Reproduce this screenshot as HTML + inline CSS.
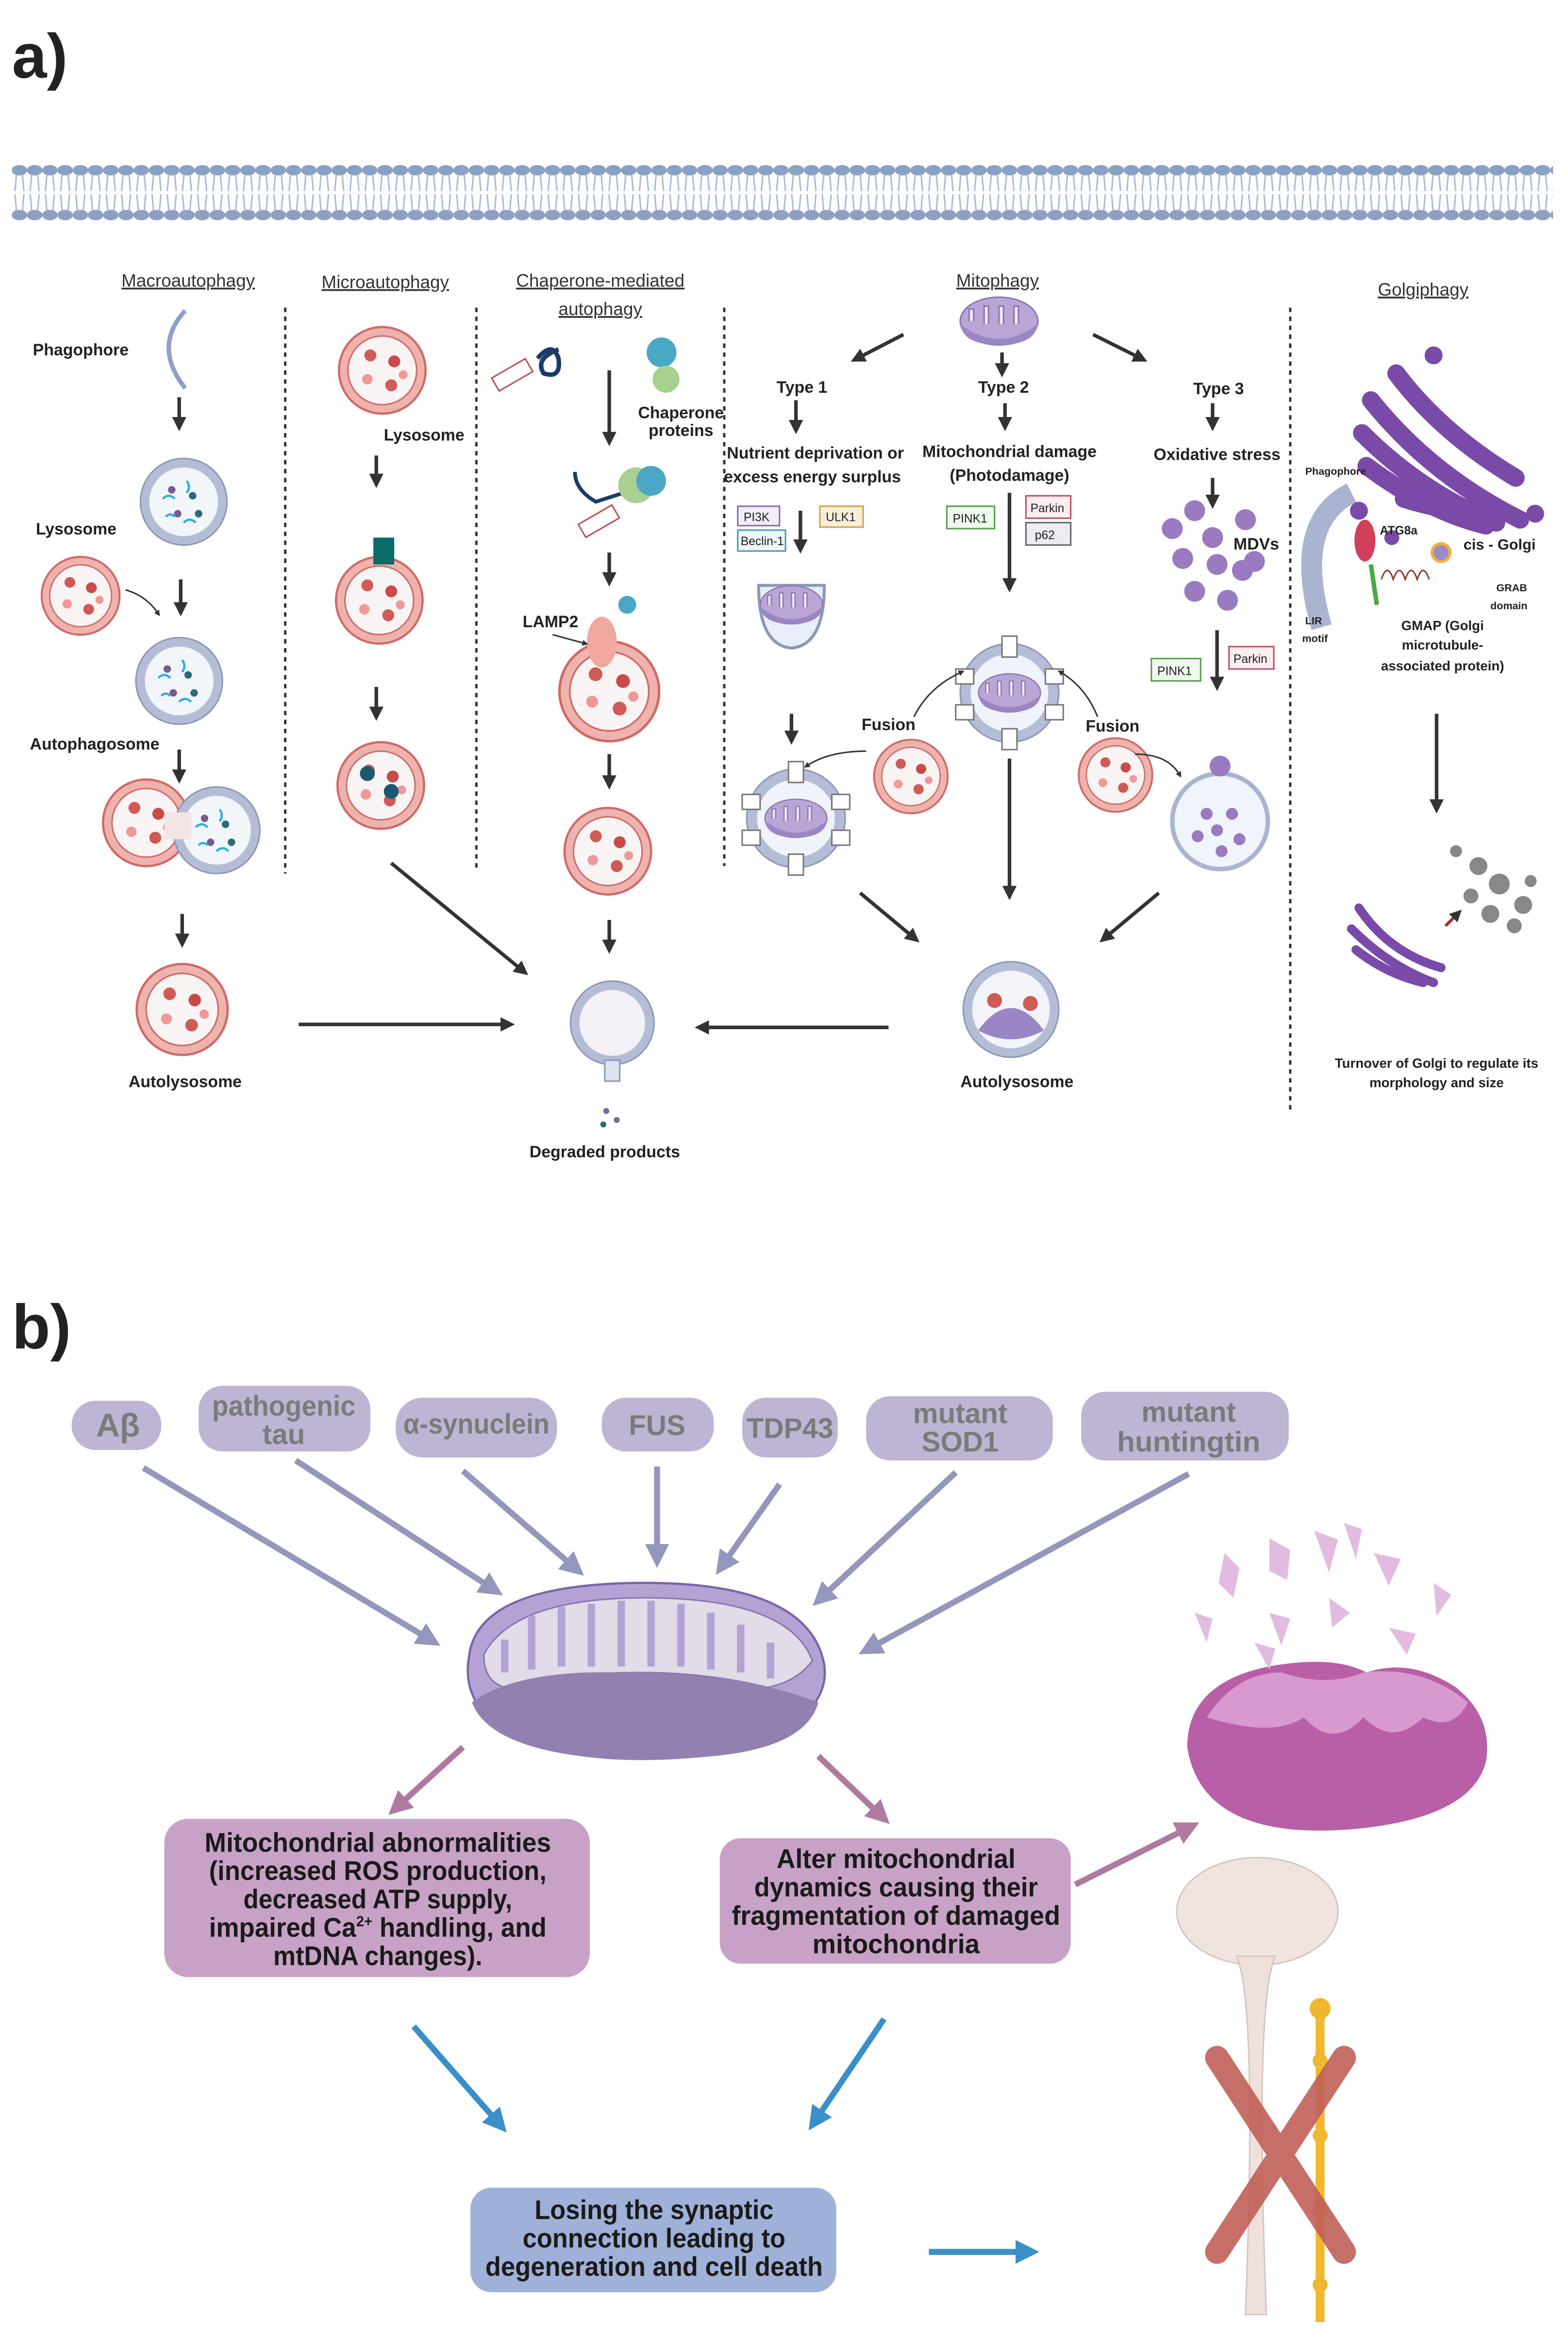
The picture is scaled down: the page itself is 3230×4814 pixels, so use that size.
<!DOCTYPE html>
<html><head><meta charset="utf-8"><style>
html,body{margin:0;padding:0;background:#fff}
svg{display:block}
text{font-family:"Liberation Sans",sans-serif;font-weight:bold;fill:#222}
.h{font-size:12px;text-decoration:underline;fill:#333;font-weight:normal}
.s{font-size:11px}
.pill text{font-size:19px;fill:#7a7a7a;text-anchor:middle}
.bx{font-size:18px;text-anchor:middle;fill:#1a1a1a}
</style></head><body>
<svg width="3230" height="4814" viewBox="0 0 1050 1565" preserveAspectRatio="none" xmlns="http://www.w3.org/2000/svg">
<defs>
<pattern id="mem" x="8" y="108" width="10.2" height="42" patternUnits="userSpaceOnUse">
<ellipse cx="5" cy="6" rx="5.2" ry="3.5" fill="#8ca0c4"/>
<ellipse cx="5" cy="36" rx="5.2" ry="3.5" fill="#8ca0c4"/>
<path d="M3 9 L2 20 M7 9 L8 20 M3 33 L2 22 M7 33 L8 22" stroke="#a8bad8" stroke-width="1" fill="none"/>
</pattern>
<marker id="ak" markerWidth="4" markerHeight="4" refX="2" refY="2" orient="auto" markerUnits="strokeWidth"><path d="M0,0 L4,2 L0,4z" fill="#333"/></marker>
<marker id="ap" markerWidth="4" markerHeight="4" refX="2" refY="2" orient="auto" markerUnits="strokeWidth"><path d="M0,0 L4,2 L0,4z" fill="#9496bb"/></marker>
<marker id="am" markerWidth="4" markerHeight="4" refX="2" refY="2" orient="auto" markerUnits="strokeWidth"><path d="M0,0 L4,2 L0,4z" fill="#b07aa0"/></marker>
<marker id="ab" markerWidth="4" markerHeight="4" refX="2" refY="2" orient="auto" markerUnits="strokeWidth"><path d="M0,0 L4,2 L0,4z" fill="#3a8fc8"/></marker>
<g id="lys"><circle r="29" fill="#eeb3ae" stroke="#d06a66" stroke-width="1.5"/><circle r="23" fill="#f8f4f4" stroke="#d06a66"/>
<circle cx="-8" cy="-10" r="4" fill="#d05a55"/><circle cx="8" cy="-6" r="4" fill="#c94a48"/><circle cx="-10" cy="6" r="3.5" fill="#e99"/><circle cx="6" cy="10" r="4" fill="#d05a55"/><circle cx="14" cy="3" r="3" fill="#e99"/></g>
<g id="aph"><circle r="29" fill="#b5bdd6" stroke="#8d97b8"/><circle r="23" fill="#f2f5fa"/>
<circle cx="-8" cy="-8" r="2.5" fill="#7a5a8a"/><circle cx="6" cy="-4" r="2.5" fill="#2a6a7a"/><circle cx="-4" cy="8" r="2.5" fill="#7a5a8a"/><circle cx="10" cy="8" r="2.5" fill="#2a6a7a"/>
<path d="M-14 -2 q4 -4 8 0 M2 -14 q3 4 0 8 M0 14 q4 -4 8 0 M-12 10 q3 -3 6 0" stroke="#2bb0e0" stroke-width="1.5" fill="none"/></g>
<g id="mito"><ellipse rx="26" ry="16" fill="#b9a6d6" stroke="#8a74b0"/><path d="M-20 0 v-8 h3 v8 M-10 2 v-12 h3 v12 M0 2 v-12 h3 v12 M10 2 v-12 h3 v12" stroke="#8a74b0" fill="#eee8f2"/><path d="M-26 2 q26 20 52 0 q-2 14 -26 14 q-24 0 -26 -14z" fill="#9a86c4"/></g>
<g id="lcv"><circle r="33" fill="#b5bdd6" stroke="#8d97b8"/><circle r="26" fill="#f0f3fa"/><use href="#mito" transform="scale(0.8)"/>
<rect x="-5" y="-38" width="10" height="14" fill="#fff" stroke="#777"/><rect x="-5" y="24" width="10" height="14" fill="#fff" stroke="#777"/>
<rect x="-36" y="-16" width="12" height="10" fill="#fff" stroke="#777"/><rect x="24" y="-16" width="12" height="10" fill="#fff" stroke="#777"/>
<rect x="-36" y="8" width="12" height="10" fill="#fff" stroke="#777"/><rect x="24" y="8" width="12" height="10" fill="#fff" stroke="#777"/></g>
</defs>

<rect width="1050" height="1565" fill="#fff"/>
<text x="8" y="52" style="font-size:42px" fill="#111">a)</text>
<rect x="8" y="108" width="1032" height="42" fill="url(#mem)"/>

<text class="h" x="126" y="192" text-anchor="middle">Macroautophagy</text>
<text class="h" x="258" y="193" text-anchor="middle">Microautophagy</text>
<text class="h" x="402" y="192" text-anchor="middle">Chaperone-mediated</text>
<text class="h" x="402" y="211" text-anchor="middle">autophagy</text>
<text class="h" x="668" y="192" text-anchor="middle">Mitophagy</text>
<text class="h" x="953" y="198" text-anchor="middle">Golgiphagy</text>
<g stroke="#333" stroke-width="1.6" stroke-dasharray="3,3">
<line x1="191" y1="206" x2="191" y2="585"/><line x1="319" y1="206" x2="319" y2="582"/><line x1="485" y1="206" x2="485" y2="580"/><line x1="864" y1="206" x2="864" y2="745"/></g>

<text class="s" x="22" y="238">Phagophore</text>
<path d="M124 208 q-22 24 0 52" stroke="#8fa0c8" stroke-width="3" fill="none"/>
<g stroke="#333" stroke-width="2.4" marker-end="url(#ak)">
<line x1="120" y1="266" x2="120" y2="284"/><line x1="121" y1="388" x2="121" y2="408"/><line x1="120" y1="502" x2="120" y2="520"/><line x1="122" y1="612" x2="122" y2="630"/>
<line x1="252" y1="305" x2="252" y2="322"/><line x1="252" y1="460" x2="252" y2="478"/>
<line x1="408" y1="248" x2="408" y2="294"/><line x1="408" y1="370" x2="408" y2="388"/><line x1="408" y1="505" x2="408" y2="524"/><line x1="408" y1="616" x2="408" y2="634"/>
<line x1="200" y1="686" x2="340" y2="686"/><line x1="262" y1="578" x2="350" y2="650"/><line x1="595" y1="688" x2="470" y2="688"/>
</g>
<use href="#aph" x="123" y="336"/>
<text class="s" x="24" y="358">Lysosome</text>
<use href="#lys" x="54" y="399" transform="translate(54 399) scale(0.9) translate(-54 -399)"/>
<path d="M84 395 q14 4 22 16" stroke="#333" fill="none" marker-end="url(#ak)"/>
<use href="#aph" x="120" y="456"/>
<text class="s" x="20" y="502">Autophagosome</text>
<use href="#lys" x="98" y="551"/><use href="#aph" x="145" y="556"/>
<rect x="110" y="544" width="18" height="18" fill="#f3e4e6"/>
<use href="#lys" x="122" y="676" transform="translate(122 676) scale(1.05) translate(-122 -676)"/>
<text class="s" x="124" y="728" text-anchor="middle">Autolysosome</text>

<use href="#lys" x="256" y="248"/>
<text class="s" x="257" y="295">Lysosome</text>
<use href="#lys" x="254" y="402"/><rect x="250" y="360" width="14" height="18" fill="#0d6b68"/>
<use href="#lys" x="255" y="526"/><circle cx="246" cy="518" r="5" fill="#1a5a70"/><circle cx="262" cy="530" r="5" fill="#1a5a70"/>

<rect x="330" y="246" width="26" height="10" fill="#fff" stroke="#c05050" transform="rotate(-30 343 251)"/>
<path d="M360 240 q10 -12 14 0 q2 14 -10 10 q-6 -10 10 -16" stroke="#1b3a6a" stroke-width="3" fill="none"/>
<circle cx="443" cy="236" r="10" fill="#4aa8c4"/><circle cx="446" cy="254" r="9" fill="#a8d090"/>
<text class="s" x="456" y="280" text-anchor="middle">Chaperone</text><text class="s" x="456" y="292" text-anchor="middle">proteins</text>
<path d="M385 316 q0 12 14 20 l25 -8" stroke="#1b3a6a" stroke-width="2.5" fill="none"/>
<circle cx="426" cy="325" r="12" fill="#a8d090"/><circle cx="436" cy="322" r="10" fill="#4aa8c4"/>
<rect x="388" y="344" width="26" height="10" fill="#fff" stroke="#c05050" transform="rotate(-30 401 349)"/>
<use href="#lys" x="408" y="463" transform="translate(408 463) scale(1.15) translate(-408 -463)"/>
<ellipse cx="403" cy="430" rx="10" ry="17" fill="#f0a8a0"/><circle cx="420" cy="405" r="6" fill="#4aa8c4"/>
<text class="s" x="350" y="420">LAMP2</text><path d="M370 425 l22 6" stroke="#333" marker-end="url(#ak)"/>
<use href="#lys" x="407" y="570"/>
<circle cx="410" cy="685" r="28" fill="#b5bdd6" stroke="#8d97b8"/><circle cx="410" cy="685" r="22" fill="#f4f2f8"/>
<rect x="405" y="710" width="10" height="14" fill="#dde3ef" stroke="#8d97b8"/>
<circle cx="406" cy="744" r="2" fill="#7a6a9a"/><circle cx="413" cy="750" r="2" fill="#7a6a9a"/><circle cx="404" cy="753" r="2" fill="#2a6a7a"/>
<text class="s" x="405" y="775" text-anchor="middle">Degraded products</text>

<use href="#mito" x="669" y="215"/>
<g stroke="#333" stroke-width="2.4" marker-end="url(#ak)">
<line x1="605" y1="224" x2="574" y2="240"/><line x1="671" y1="236" x2="671" y2="248"/><line x1="732" y1="224" x2="764" y2="240"/>
<line x1="533" y1="268" x2="533" y2="286"/><line x1="673" y1="270" x2="673" y2="284"/><line x1="812" y1="270" x2="812" y2="284"/>
<line x1="536" y1="342" x2="536" y2="366"/><line x1="676" y1="330" x2="676" y2="392"/><line x1="812" y1="320" x2="812" y2="336"/>
<line x1="530" y1="478" x2="530" y2="494"/><line x1="815" y1="422" x2="815" y2="458"/><line x1="676" y1="508" x2="676" y2="598"/>
<line x1="576" y1="598" x2="612" y2="628"/><line x1="776" y1="598" x2="740" y2="628"/><line x1="962" y1="478" x2="962" y2="540"/>
</g>
<text class="s" x="537" y="263" text-anchor="middle">Type 1</text><text class="s" x="672" y="263" text-anchor="middle">Type 2</text><text class="s" x="816" y="264" text-anchor="middle">Type 3</text>
<text class="s" x="546" y="307" text-anchor="middle">Nutrient deprivation or</text><text class="s" x="544" y="323" text-anchor="middle">excess energy surplus</text>
<text class="s" x="676" y="306" text-anchor="middle">Mitochondrial damage</text><text class="s" x="676" y="322" text-anchor="middle">(Photodamage)</text>
<text class="s" x="815" y="308" text-anchor="middle">Oxidative stress</text>
<g>
<rect x="494" y="339" width="28" height="13" fill="#f0ecf8" stroke="#8a6ab0"/><text x="498" y="349" style="font-weight:normal;font-size:8px">PI3K</text>
<rect x="494" y="355" width="32" height="14" fill="#eef6f8" stroke="#4a9ab0"/><text x="496" y="365" style="font-weight:normal;font-size:8px">Beclin-1</text>
<rect x="549" y="339" width="29" height="14" fill="#fbeed8" stroke="#d0a050"/><text x="553" y="349" style="font-weight:normal;font-size:8px">ULK1</text>
<rect x="634" y="339" width="32" height="15" fill="#eef8ec" stroke="#5a9a50"/><text x="638" y="350" style="font-weight:normal;font-size:8px">PINK1</text>
<rect x="687" y="332" width="30" height="15" fill="#fbeef0" stroke="#c05060"/><text x="690" y="343" style="font-weight:normal;font-size:8px">Parkin</text>
<rect x="687" y="350" width="30" height="15" fill="#ececf2" stroke="#666"/><text x="693" y="361" style="font-weight:normal;font-size:8px">p62</text>
<rect x="771" y="441" width="33" height="15" fill="#eef8ec" stroke="#5a9a50"/><text x="775" y="452" style="font-weight:normal;font-size:8px">PINK1</text>
<rect x="823" y="433" width="30" height="15" fill="#fbeef0" stroke="#c05060"/><text x="826" y="444" style="font-weight:normal;font-size:8px">Parkin</text>
</g>
<path d="M508 392 q0 40 22 42 q22 -2 22 -42 z" fill="#e8edf8" stroke="#8d97b8" stroke-width="2"/><use href="#mito" x="530" y="405" transform="translate(530 405) scale(0.8) translate(-530 -405)"/>
<use href="#lcv" x="676" y="464"/><use href="#lcv" x="533" y="548"/>
<use href="#lys" x="610" y="520" transform="translate(610 520) scale(0.85) translate(-610 -520)"/>
<use href="#lys" x="747" y="519" transform="translate(747 519) scale(0.85) translate(-747 -519)"/>
<text class="s" x="595" y="489" text-anchor="middle">Fusion</text><text class="s" x="745" y="490" text-anchor="middle">Fusion</text>
<path d="M612 480 q10 -20 32 -30" stroke="#333" fill="none" marker-end="url(#ak)"/><path d="M735 480 q-8 -20 -25 -30" stroke="#333" fill="none" marker-end="url(#ak)"/>
<path d="M580 503 q-25 0 -40 10" stroke="#333" fill="none" marker-end="url(#ak)"/><path d="M760 505 q22 0 30 14" stroke="#333" fill="none" marker-end="url(#ak)"/>
<g fill="#9a7ac0"><circle cx="785" cy="354" r="7"/><circle cx="800" cy="342" r="7"/><circle cx="834" cy="348" r="7"/><circle cx="812" cy="360" r="7"/><circle cx="792" cy="374" r="7"/><circle cx="815" cy="378" r="7"/><circle cx="832" cy="382" r="7"/><circle cx="800" cy="396" r="7"/><circle cx="822" cy="402" r="7"/><circle cx="840" cy="376" r="7"/></g>
<text class="s" x="826" y="368">MDVs</text>
<circle cx="817" cy="550" r="32" fill="#f0f4fb" stroke="#aab4d0" stroke-width="3"/><circle cx="817" cy="513" r="7" fill="#9a7ac0"/>
<g fill="#9a7ac0"><circle cx="808" cy="545" r="4"/><circle cx="825" cy="545" r="4"/><circle cx="815" cy="556" r="4"/><circle cx="830" cy="562" r="4"/><circle cx="802" cy="560" r="4"/><circle cx="818" cy="570" r="4"/></g>
<circle cx="677" cy="676" r="32" fill="#b5bdd6" stroke="#8d97b8"/><circle cx="677" cy="676" r="26" fill="#f2f4fa"/><path d="M655 690 q22 -30 44 0 q-22 12 -44 0" fill="#9a86c4"/><circle cx="666" cy="670" r="5" fill="#d05a55"/><circle cx="690" cy="672" r="5" fill="#d05a55"/>
<text class="s" x="681" y="728" text-anchor="middle">Autolysosome</text>

<g stroke="#7a4aa8" stroke-width="12" stroke-linecap="round" fill="none">
<path d="M935 250 q30 40 80 70"/><path d="M918 268 q40 50 100 80"/><path d="M912 290 q40 40 90 60"/><path d="M915 312 q40 30 80 40"/><path d="M940 334 q25 8 45 8"/></g>
<g fill="#7a4aa8"><circle cx="960" cy="238" r="6"/><circle cx="910" cy="342" r="6"/><circle cx="932" cy="360" r="5"/><circle cx="1028" cy="344" r="6"/></g>
<path d="M905 330 q-40 20 -20 90" stroke="#aab4d0" stroke-width="14" fill="none"/>
<text x="874" y="318" style="font-size:7px">Phagophore</text>
<ellipse cx="914" cy="362" rx="7" ry="14" fill="#d0405a"/><line x1="918" y1="378" x2="922" y2="405" stroke="#4aa840" stroke-width="3"/>
<path d="M925 388 q4 -12 8 0 q4 -12 8 0 q4 -12 8 0 q4 -12 8 0" stroke="#8a3a2a" fill="none"/><circle cx="965" cy="370" r="6" fill="#9a8ac8" stroke="#f0b040" stroke-width="2"/>
<text x="924" y="358" style="font-size:8px">ATG8a</text><text x="980" y="368" style="font-size:10px">cis - Golgi</text>
<text x="1002" y="396" style="font-size:7px">GRAB</text><text x="998" y="408" style="font-size:7px">domain</text>
<text x="874" y="418" style="font-size:7px">LIR</text><text x="872" y="430" style="font-size:7px">motif</text>
<text x="966" y="422" style="font-size:9px" text-anchor="middle">GMAP (Golgi</text><text x="966" y="435" style="font-size:9px" text-anchor="middle">microtubule-</text><text x="966" y="449" style="font-size:9px" text-anchor="middle">associated protein)</text>
<g stroke="#7a4aa8" stroke-width="6" stroke-linecap="round" fill="none"><path d="M910 608 q20 30 55 40"/><path d="M905 622 q25 25 55 36"/><path d="M908 636 q20 16 45 22"/></g>
<g fill="#888"><circle cx="990" cy="580" r="6"/><circle cx="1004" cy="592" r="7"/><circle cx="1020" cy="606" r="6"/><circle cx="985" cy="600" r="5"/><circle cx="998" cy="612" r="6"/><circle cx="1014" cy="620" r="5"/><circle cx="975" cy="570" r="4"/><circle cx="1025" cy="590" r="4"/></g>
<path d="M968 620 l8 -8" stroke="#a03030" stroke-width="2" marker-end="url(#ak)"/>
<text class="s" x="962" y="715" text-anchor="middle" style="font-size:9px">Turnover of Golgi  to regulate its</text>
<text class="s" x="962" y="728" text-anchor="middle" style="font-size:9px">morphology and size</text>

<text x="8" y="903" style="font-size:42px" fill="#111">b)</text>
<g class="pill" fill="#bdb5d3">
<rect x="48" y="938" width="60" height="33" rx="16"/><text x="79" y="962" style="font-size:22px">Aβ</text>
<rect x="133" y="928" width="115" height="44" rx="16"/><text x="190" y="948" textLength="96" lengthAdjust="spacingAndGlyphs">pathogenic</text><text x="190" y="967">tau</text>
<rect x="265" y="936" width="108" height="40" rx="18"/><text x="319" y="960" textLength="98" lengthAdjust="spacingAndGlyphs">α-synuclein</text>
<rect x="403" y="936" width="75" height="36" rx="16"/><text x="440" y="961">FUS</text>
<rect x="497" y="936" width="64" height="40" rx="16"/><text x="529" y="963" textLength="58" lengthAdjust="spacingAndGlyphs">TDP43</text>
<rect x="580" y="935" width="125" height="43" rx="16"/><text x="643" y="953">mutant</text><text x="643" y="972">SOD1</text>
<rect x="724" y="932" width="139" height="46" rx="16"/><text x="796" y="952">mutant</text><text x="796" y="972" textLength="96" lengthAdjust="spacingAndGlyphs">huntingtin</text>
</g>
<g stroke="#9496bb" stroke-width="4" marker-end="url(#ap)">
<line x1="96" y1="983" x2="288" y2="1098"/><line x1="198" y1="978" x2="330" y2="1064"/><line x1="310" y1="985" x2="385" y2="1050"/>
<line x1="440" y1="982" x2="440" y2="1042"/><line x1="522" y1="994" x2="484" y2="1048"/><line x1="640" y1="986" x2="550" y2="1070"/><line x1="796" y1="987" x2="582" y2="1104"/></g>
<path d="M314 1110 q5 -50 118 -50 q110 0 120 55 q4 30 -40 50 q-30 12 -80 12 q-70 0 -95 -18 q-28 -20 -23 -49z" fill="#b3a2d3" stroke="#7a64a8" stroke-width="1.5"/>
<path d="M324 1108 q20 -38 108 -38 q96 0 112 42 q-10 14 -30 18 q-40 -10 -86 -10 q-50 0 -90 10 q-14 -4 -14 -22z" fill="#e2dbe8" stroke="#8a74b0"/>
<g stroke="#b3a2d3" stroke-width="5" fill="none"><path d="M338 1120 v-22"/><path d="M356 1118 v-36"/><path d="M376 1116 v-40"/><path d="M396 1116 v-42"/><path d="M416 1116 v-44"/><path d="M436 1116 v-44"/><path d="M456 1116 v-42"/><path d="M476 1118 v-38"/><path d="M496 1120 v-32"/><path d="M516 1124 v-24"/></g>
<path d="M316 1140 q30 -22 100 -20 q80 0 132 20 q-8 30 -70 36 q-40 4 -70 2 q-80 -6 -92 -38z" fill="#9280b0"/>
<g stroke="#b07aa0" stroke-width="4" marker-end="url(#am)"><line x1="310" y1="1170" x2="266" y2="1210"/><line x1="548" y1="1176" x2="590" y2="1216"/><line x1="720" y1="1262" x2="796" y2="1224"/></g>
<rect x="110" y="1218" width="285" height="106" rx="16" fill="#c8a2c6"/>
<text class="bx" x="253" y="1240" textLength="232" lengthAdjust="spacingAndGlyphs">Mitochondrial abnormalities</text><text class="bx" x="253" y="1259" textLength="226" lengthAdjust="spacingAndGlyphs">(increased ROS production,</text><text class="bx" x="253" y="1278" textLength="180" lengthAdjust="spacingAndGlyphs">decreased ATP supply,</text><text class="bx" x="253" y="1297" textLength="226" lengthAdjust="spacingAndGlyphs">impaired Ca<tspan dy="-7" style="font-size:10px">2+</tspan><tspan dy="7"> handling, and</tspan></text><text class="bx" x="253" y="1316" textLength="140" lengthAdjust="spacingAndGlyphs">mtDNA changes).</text>
<rect x="482" y="1231" width="235" height="84" rx="14" fill="#c8a2c6"/>
<text class="bx" x="600" y="1251" textLength="160" lengthAdjust="spacingAndGlyphs">Alter mitochondrial</text><text class="bx" x="600" y="1270" textLength="190" lengthAdjust="spacingAndGlyphs">dynamics causing their</text><text class="bx" x="600" y="1289" textLength="220" lengthAdjust="spacingAndGlyphs">fragmentation of damaged</text><text class="bx" x="600" y="1308" textLength="112" lengthAdjust="spacingAndGlyphs">mitochondria</text>
<g stroke="#3a8fc8" stroke-width="4" marker-end="url(#ab)"><line x1="277" y1="1357" x2="334" y2="1422"/><line x1="592" y1="1352" x2="546" y2="1420"/><line x1="622" y1="1508" x2="688" y2="1508"/></g>
<rect x="315" y="1465" width="245" height="70" rx="14" fill="#9fb1d8"/>
<text class="bx" x="438" y="1486" textLength="160" lengthAdjust="spacingAndGlyphs">Losing the synaptic</text><text class="bx" x="438" y="1505" textLength="176" lengthAdjust="spacingAndGlyphs">connection leading to</text><text class="bx" x="438" y="1524" textLength="226" lengthAdjust="spacingAndGlyphs">degeneration and cell death</text>
<path d="M795 1170 q0 -45 60 -55 q40 -6 60 5 q30 -10 60 10 q25 20 20 50 q-10 38 -90 45 q-100 8 -110 -55z" fill="#b85fa8"/>
<path d="M808 1150 q20 -30 50 -30 q30 10 55 0 q40 -5 70 20 q-10 20 -30 10 q-20 20 -40 0 q-20 22 -40 0 q-20 14 -65 0z" fill="#d89ace"/>
<g fill="#e2bce0"><path d="M820 1040 l10 10 l-4 20 l-10 -10z"/><path d="M850 1030 l14 8 l-2 20 l-12 -6z"/><path d="M880 1025 l16 6 l-6 22z"/><path d="M920 1040 l18 4 l-8 18z"/><path d="M960 1060 l12 8 l-10 14z"/><path d="M850 1080 l14 4 l-6 18z"/><path d="M890 1070 l14 10 l-12 10z"/><path d="M930 1090 l18 4 l-6 14z"/><path d="M800 1080 l12 4 l-4 16z"/><path d="M900 1020 l12 4 l-4 20z"/><path d="M840 1100 l14 4 l-4 14z"/></g>
<ellipse cx="842" cy="1280" rx="54" ry="36" fill="#f0e4e0" stroke="#d8c4c0"/>
<path d="M828 1310 q14 30 6 240 h14 q-8 -210 6 -240z" fill="#f0e0dc" stroke="#d8c4c0"/>
<g stroke="#f0b830" stroke-width="6"><line x1="884" y1="1345" x2="884" y2="1555"/></g>
<g fill="#f0b830"><circle cx="884" cy="1345" r="7"/><circle cx="884" cy="1380" r="5"/><circle cx="884" cy="1430" r="5"/><circle cx="884" cy="1480" r="5"/><circle cx="884" cy="1530" r="5"/></g>
<g stroke="#c06058" stroke-width="16" stroke-linecap="round" opacity="0.9"><line x1="815" y1="1378" x2="900" y2="1508"/><line x1="900" y1="1378" x2="815" y2="1508"/></g>
</svg>
</body></html>
